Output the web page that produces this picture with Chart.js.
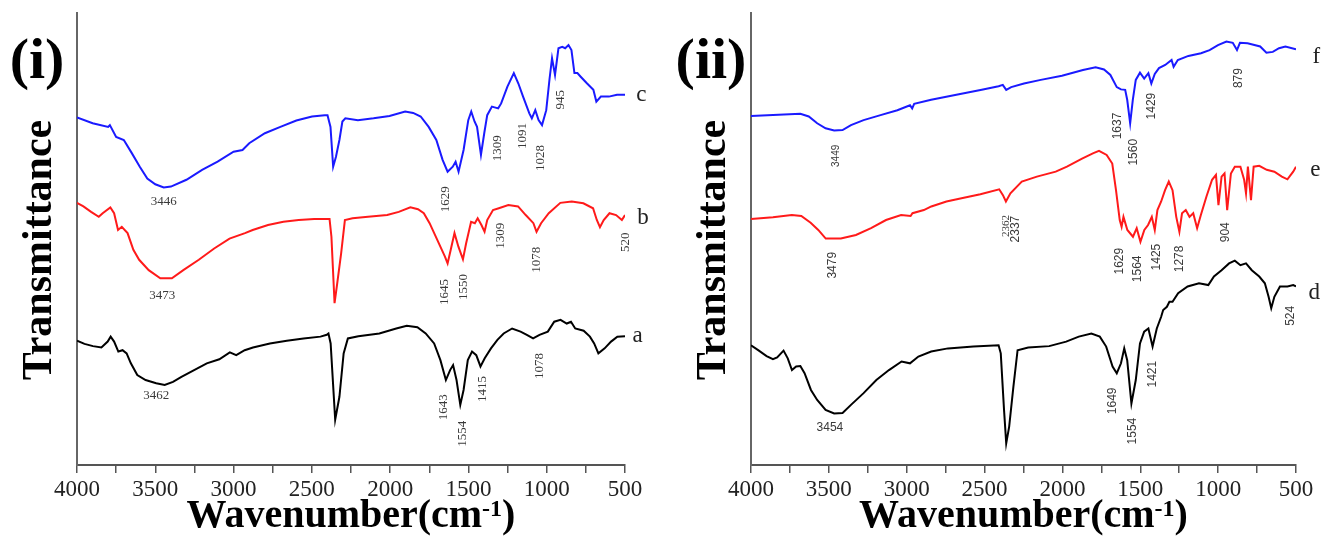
<!DOCTYPE html>
<html>
<head>
<meta charset="utf-8">
<script src="https://cdn.jsdelivr.net/npm/chart.js@4.4.1/dist/chart.umd.min.js"></script>
<style>
body { margin: 0; background: #fff; }
#wrap { position: relative; width: 1323px; height: 537px; }
canvas { position: absolute; top: 0; }
</style>
</head>
<body>
<div id="wrap">
<canvas id="left" width="665" height="537" style="left:0"></canvas>
<canvas id="right" width="658" height="537" style="left:665px"></canvas>
</div>
<script>
// x tick labels (wavenumber, cm-1)
const xTicks = [4000, 3500, 3000, 2500, 2000, 1500, 1000, 500];

// panel (i): curves a (black), b (red), c (blue), transmittance in arbitrary units
const wnA = [4000,3952,3898,3844,3804,3785,3763,3736,3709,3683, 3656,3615,3562,3494,3440,3387,3333,3252,3171,3091,
  3024,2983,2929,2876,2768,2660,2553,2445,2405,2394, 2380,2351,2324,2297,2270,2203,2069,1961,1894,1826,
  1773,1719,1679,1644,1617,1598,1576,1552,1531,1504, 1477,1450,1423,1396,1356,1315,1275,1221,1167,1127,
  1087,1046,993,952,912,872,845,818,764,724, 697,670,630,589,549,500];
const tA = [27.5,26.8,26.3,26.0,27.3,28.4,27.3,25.1,25.4,24.7, 22.5,19.9,18.8,18.1,17.7,18.4,19.5,21.0,22.5,23.4,
  24.9,24.3,25.4,26.0,26.9,27.5,28.0,28.4,28.8,29.1, 26.9,10.0,15.1,24.7,28.0,28.5,29.1,30.2,30.8,30.5,
  29.1,26.9,23.2,18.8,21.0,22.1,18.8,13.3,16.6,23.2, 25.1,24.3,21.8,23.6,25.8,27.7,29.1,30.2,29.5,28.8,
  28.0,28.8,29.5,31.7,32.1,31.3,31.7,30.2,29.7,28.4, 26.9,24.7,25.8,27.3,28.4,28.5];

const wnB = [4000,3959,3910,3861,3836,3787,3763,3738,3714,3677, 3640,3603,3542,3468,3394,3321,3222,3124,3026,2927,
  2878,2780,2682,2584,2485,2387,2375,2355,2338,2313, 2289,2240,2141,2019,1945,1871,1822,1785,1748,1699,
  1650,1633,1613,1589,1564,1535,1515,1483,1459,1441, 1417,1397,1380,1343,1306,1245,1183,1134,1085,1065,
  1036,987,913,840,766,704,680,660,636,599, 557,520,500];
const tB = [58.0,57.2,56.0,54.9,55.7,57.0,55.7,52.0,52.7,51.3, 47.6,45.4,43.1,41.3,41.3,43.1,45.4,47.9,50.1,51.3,
  52.0,53.1,53.8,54.2,54.4,54.4,50.5,35.8,40.2,46.8, 54.2,54.6,54.9,55.3,56.0,57.0,56.6,55.7,53.5,49.8,
  46.1,44.6,47.6,51.3,48.3,45.5,49.0,53.8,53.5,54.6, 53.1,51.6,54.2,56.4,56.8,57.5,57.2,55.3,53.5,51.6,
  53.5,55.7,58.0,58.3,57.9,56.8,54.2,52.6,54.2,55.7, 55.3,54.2,55.3];

const wnC = [4000,3900,3801,3790,3750,3701,3650,3599,3551,3500, 3446,3400,3301,3201,3102,3000,2943,2900,2800,2701,
  2599,2499,2418,2400,2381,2364,2346,2324,2305,2286, 2206,2106,2004,1904,1853,1805,1754,1705,1665,1633,
  1600,1582,1563,1531,1501,1482,1461,1445,1420,1399, 1380,1350,1310,1291,1251,1210,1181,1151,1111,1095,
  1073,1052,1030,1003,982,966,947,925,901,882, 861,842,823,804,783,742,702,683,654,603, 551,522,500];
const tC = [76.9,75.6,74.8,75.2,72.6,71.9,69.0,66.0,63.4,62.1, 61.4,61.6,63.1,65.3,67.1,69.3,69.7,71.2,73.4,74.8,
  76.2,77.1,77.4,77.4,74.8,66.0,68.2,71.9,76.0,76.7, 76.3,76.7,77.2,78.2,77.9,77.1,74.8,71.9,67.5,64.9,
  66.0,67.1,64.9,69.7,76.3,78.2,76.0,74.8,68.6,73.4, 77.4,79.3,78.9,80.0,83.7,86.7,84.4,81.5,77.8,76.7,
  78.5,76.3,75.2,78.5,85.4,90.0,86.3,92.2,92.5,92.2, 92.9,91.8,86.7,86.7,85.9,84.4,83.0,80.4,81.5,81.5, 81.9,81.9,81.9];

// panel (ii): curves d (black), e (red), f (blue)
const wnD = [4000,3954,3900,3859,3832,3791,3764,3737,3710,3683, 3656,3615,3575,3521,3466,3412,3358,3277,3195,3114,
  3033,2979,2925,2843,2735,2572,2410,2396,2375,2361, 2342,2315,2288,2220,2085,1976,1895,1814,1760,1719,
  1678,1651,1624,1603,1584,1557,1529,1502,1475,1448, 1421,1394,1366,1353,1329,1313,1293,1257,1196,1123,
  1063,1027,978,930,893,857,821,784,736,700, 676,659,639,603,555,518,500];
const tD = [26.5,25.4,24.1,23.4,23.8,25.3,23.6,21.0,21.8,21.9, 20.3,16.6,14.4,12.2,11.4,11.5,13.3,15.9,18.8,21.0,
  22.9,22.5,24.0,25.1,25.8,26.2,26.5,24.7,12.2,4.8, 8.5,17.3,25.4,26.0,26.3,27.3,28.4,29.1,28.4,26.2,
  21.8,20.3,22.5,25.8,23.2,13.6,18.8,26.9,29.5,30.2, 26.2,30.2,32.8,34.3,35.0,36.1,36.1,38.0,39.5,40.2,
  39.8,41.7,43.1,44.6,45.2,44.2,44.6,43.1,41.7,40.2, 37.2,34.7,37.2,39.5,39.5,39.8,39.5];

const wnE = [4000,3859,3738,3677,3617,3568,3520,3423,3326,3229, 3133,3036,2975,2963,2890,2842,2745,2648,2527,2406,
  2382,2363,2334,2261,2164,2043,1971,1874,1801,1765, 1716,1680,1656,1632,1620,1608,1583,1547,1523,1499,
  1474,1450,1426,1407,1390,1366,1341,1317,1293,1269, 1249,1232,1208,1184,1160,1135,1111,1075,1039,1014,
  998,978,959,942,918,893,857,833,821,809, 789,772,736,688,639,591,555,518,500];
const tE = [54.4,54.8,55.3,55.1,53.6,52.0,50.1,50.1,50.9,52.4, 54.2,55.3,55.1,55.7,56.4,57.2,58.3,59.0,59.9,61.0,
  59.7,58.3,60.1,62.7,63.8,64.9,66.0,67.8,69.0,69.5, 68.6,66.7,60.8,54.2,52.7,54.9,52.0,50.5,52.4,49.4,
  52.0,53.1,54.9,52.0,56.4,58.3,60.8,62.7,60.8,54.9, 51.6,55.7,56.4,54.9,55.7,52.4,55.3,59.4,63.1,64.2,
  57.5,63.8,64.5,56.4,64.5,66.0,66.0,63.1,60.1,66.0, 58.6,66.0,66.2,65.3,64.9,63.8,63.2,64.9,66.0];

const wnF = [4000,3683,3629,3575,3521,3466,3412,3358,3277,3168, 3060,2979,2965,2952,2843,2681,2518,2410,2383,2361,
  2329,2247,2139,2003,1868,1787,1733,1692,1651,1624, 1597,1584,1565,1548,1529,1502,1475,1448,1429,1407,
  1380,1340,1299,1286,1259,1191,1110,1055,1001,947, 906,879,860,811,730,690,649,609,568,500];
const tF = [77.2,77.7,77.1,75.6,74.5,74.0,74.1,75.2,76.3,77.4, 78.5,79.6,78.9,79.9,80.8,81.9,83.0,83.8,84.1,83.0,
  83.6,84.4,85.2,86.1,87.4,88.0,87.5,86.3,83.6,83.1, 83.0,80.8,75.6,80.8,85.2,86.8,85.5,86.7,84.4,86.5,
  87.8,88.5,89.6,88.1,89.6,90.5,91.1,91.8,92.9,93.7, 93.4,91.8,93.4,93.3,92.6,91.2,91.4,92.2,92.6,92.0];

// peak labels: [wavenumber, level, text, vertical]
const peaksI = [
  [3446, 58.2, '3446', 0], [1646, 58.8, '1629', 1], [1312, 70.1, '1309', 1], [1154, 72.8, '1091', 1],
  [1038, 67.9, '1028', 1], [912, 80.8, '945', 1],
  [3456, 37.4, '3473', 0], [1650, 38.3, '1645', 1], [1533, 39.4, '1550', 1], [1296, 50.7, '1309', 1],
  [1067, 45.4, '1078', 1], [497, 49.3, '520', 1],
  [3494, 15.3, '3462', 0], [1660, 12.8, '1643', 1], [1539, 6.9, '1554', 1], [1411, 16.8, '1415', 1],
  [1046, 21.9, '1078', 1]
];
const peaksII = [
  [3453, 68.4, '3449', 1], [1646, 75.0, '1637', 1], [1543, 69.2, '1560', 1], [1429, 79.4, '1429', 1],
  [866, 85.6, '879', 1],
  [3476, 44.2, '3479', 1], [2363, 52.9, '2362', 1], [2297, 52.2, '2337', 1], [1632, 45.1, '1629', 1],
  [1516, 43.4, '1564', 1], [1395, 46.0, '1425', 1], [1249, 45.6, '1278', 1], [954, 51.5, '904', 1],
  [3493, 8.2, '3454', 0], [1678, 14.2, '1649', 1], [1548, 7.5, '1554', 1], [1421, 20.1, '1421', 1],
  [535, 33.0, '524', 1]
];
// curve names placed right of the axis end
const namesI = [[396, 81.9, 'c'], [385, 54.6, 'b'], [420, 28.5, 'a']];
const namesII = [[370, 90.3, 'f'], [375, 65.3, 'e'], [383, 38.1, 'd']];

const serif = "'Liberation Serif', 'Times New Roman', serif";
const sans = "'Liberation Sans', Arial, sans-serif";

function pts(wn, t) {
  return wn.map((w, i) => ({ x: w, y: t[i] }));
}

function textPlugin(panel, peaks, names, peakFont) {
  return {
    id: 'texts',
    afterDatasetsDraw(chart) {
      const { ctx, chartArea: ca, scales: { x, y } } = chart;
      ctx.save();
      ctx.textAlign = 'center';
      ctx.textBaseline = 'middle';

      ctx.fillStyle = '#3a3a3a';
      peaks.forEach(([w, t, s, vert]) => {
        let f = peakFont;
        if (s === '3449') f = '10px ' + sans;
        if (s === '2362') f = '11px ' + serif;
        ctx.font = f;
        ctx.save();
        ctx.translate(x.getPixelForValue(w), y.getPixelForValue(t));
        if (vert) ctx.rotate(-Math.PI / 2);
        ctx.fillText(s, 0, 0);
        ctx.restore();
      });

      ctx.fillStyle = '#222';
      ctx.font = '23px ' + serif;
      names.forEach(([w, t, s]) => {
        ctx.fillText(s, x.getPixelForValue(w), y.getPixelForValue(t));
      });

      ctx.fillStyle = '#000';
      // panel tag
      ctx.font = 'bold 58px ' + serif;
      ctx.fillText(panel, ca.left - 40, 63);

      // y title
      ctx.font = 'bold 42px ' + serif;
      ctx.save();
      ctx.translate(ca.left - 37, 250);
      ctx.rotate(-Math.PI / 2);
      ctx.fillText('Transmittance', 0, 0);
      ctx.restore();

      // x title with superscript
      ctx.textAlign = 'left';
      ctx.textBaseline = 'alphabetic';
      const big = 'bold 40px ' + serif, small = 'bold 24px ' + serif;
      ctx.font = big;
      const w1 = ctx.measureText('Wavenumber(cm').width;
      const w3 = ctx.measureText(')').width;
      ctx.font = small;
      const w2 = ctx.measureText('-1').width;
      let sx = (ca.left + ca.right) / 2 - (w1 + w2 + w3) / 2;
      const base = ca.bottom + 62;
      ctx.font = big;
      ctx.fillText('Wavenumber(cm', sx, base);
      ctx.font = small;
      ctx.fillText('-1', sx + w1, base - 11);
      ctx.font = big;
      ctx.fillText(')', sx + w1 + w2, base);
      ctx.restore();
    }
  };
}

function makeChart(id, curves, peaks, names, panel, axisW, padRight, peakFont) {
  const colors = ['#000000', '#ff1a1a', '#1a1aff'];
  new Chart(document.getElementById(id), {
    type: 'line',
    data: {
      datasets: curves.map((c, i) => ({
        data: pts(c[0], c[1]),
        borderColor: colors[i],
        borderWidth: 2,
        pointRadius: 0,
        tension: 0,
        fill: false
      }))
    },
    options: {
      responsive: false,
      animation: false,
      devicePixelRatio: 1,
      layout: { padding: { top: 13, right: padRight, left: 0, bottom: 0 } },
      plugins: { legend: { display: false }, tooltip: { enabled: false } },
      scales: {
        x: {
          type: 'linear',
          reverse: true,
          min: 500,
          max: 4000,
          afterFit: s => { s.height = 72; },
          border: { display: true, color: '#555', width: 2 },
          grid: { display: true, drawOnChartArea: false, drawTicks: true, tickLength: 8, color: '#555', lineWidth: 1.5 },
          ticks: {
            stepSize: 250,
            autoSkip: false,
            maxRotation: 0,
            minRotation: 0,
            padding: 3,
            color: '#222',
            font: { family: serif, size: 23 },
            callback: v => xTicks.includes(v) ? String(v) : ''
          }
        },
        y: {
          min: 0,
          max: 100,
          afterFit: s => { s.width = axisW; },
          border: { display: true, color: '#666', width: 2 },
          grid: { display: false },
          ticks: { display: false }
        }
      }
    },
    plugins: [textPlugin(panel, peaks, names, peakFont)]
  });
}

makeChart('left', [[wnA, tA], [wnB, tB], [wnC, tC]], peaksI, namesI, '(i)', 77, 40, '13px ' + serif);
makeChart('right', [[wnD, tD], [wnE, tE], [wnF, tF]], peaksII, namesII, '(ii)', 86, 27, '12px ' + sans);
</script>
</body>
</html>
